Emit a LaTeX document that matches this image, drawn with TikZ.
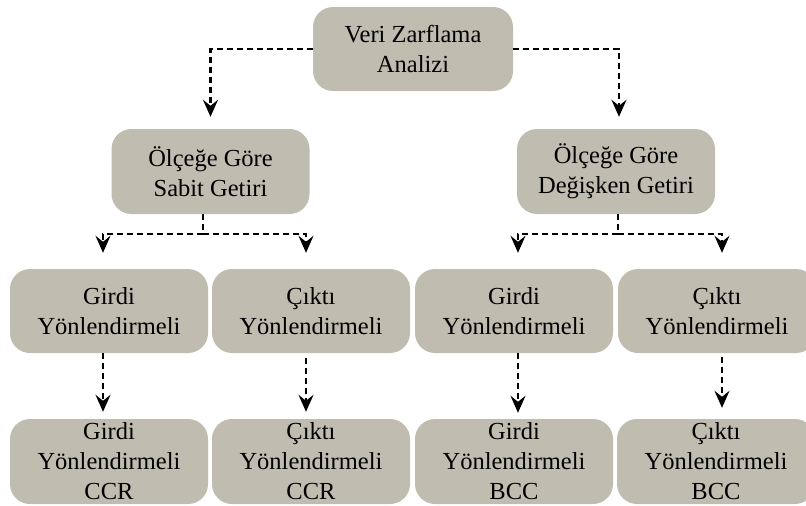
\documentclass[tikz,border=0pt]{standalone}
\usepackage{fontspec}
\setmainfont{Liberation Serif}
\usetikzlibrary{arrows.meta}
\definecolor{boxfill}{HTML}{C0BCAF}
\tikzset{
  box/.style={fill=boxfill, rounded corners=20pt, inner sep=0pt, align=center,
    minimum width=198pt, minimum height=84pt,
    font=\fontsize{24.5}{30}\selectfont},
  conn/.style={line width=2.2pt, dash pattern=on 6pt off 4pt,
    -{Stealth[length=17pt,width=15pt,inset=6pt]}},
  link/.style={line width=2.2pt, dash pattern=on 6pt off 4pt}
}
\begin{document}
\begin{tikzpicture}[x=1pt,y=-1pt]
\useasboundingbox (0,0) rectangle (806,506);

% top level
\node[box, minimum width=200pt] (top) at (413,49) {Veri Zarflama\\Analizi};

% returns to scale
\node[box, minimum height=85pt] (crs) at (210.5,171.5) {Ölçeğe Göre\\Sabit Getiri};
\node[box, minimum height=85pt] (vrs) at (616,171.5) {Ölçeğe Göre\\Değişken Getiri};

% orientation
\node[box] (ia) at (109,311) {Girdi\\Yönlendirmeli};
\node[box] (oa) at (311,311) {Çıktı\\Yönlendirmeli};
\node[box] (ib) at (514,311) {Girdi\\Yönlendirmeli};
\node[box] (ob) at (717,311) {Çıktı\\Yönlendirmeli};

% models
\node[box, minimum height=85pt] (iccr) at (109,461.5) {Girdi\\Yönlendirmeli\\CCR};
\node[box, minimum height=85pt] (occr) at (311,461.5) {Çıktı\\Yönlendirmeli\\CCR};
\node[box, minimum height=85pt] (ibcc) at (514,461.5) {Girdi\\Yönlendirmeli\\BCC};
\node[box, minimum height=85pt] (obcc) at (716,461.5) {Çıktı\\Yönlendirmeli\\BCC};

% branch points
\coordinate (jl) at (203,234);
\coordinate (jr) at (618,234);

% top -> returns to scale
\draw[conn, shorten >=12pt] (top.west) -| (crs.north);
\draw[conn, shorten >=12pt] (top.east) -| ([xshift=3pt]vrs.north);

% returns to scale -> orientation
\draw[link] (crs.south -| jl) -- (jl);
\draw[conn, shorten >=16pt] (jl) -| ([xshift=-6pt]ia.north);
\draw[conn, shorten >=16pt] (jl) -| ([xshift=-5pt]oa.north);
\draw[link] (vrs.south -| jr) -- (jr);
\draw[conn, shorten >=16pt] (jr) -| ([xshift=4pt]ib.north);
\draw[conn, shorten >=16pt] (jr) -| ([xshift=5pt]ob.north);

% orientation -> models
\draw[conn, shorten >=7pt] ([xshift=-6pt]ia.south) -- ([xshift=-6pt]iccr.north);
\draw[conn, shorten <=5pt, shorten >=7pt] ([xshift=-5pt]oa.south) -- ([xshift=-5pt]occr.north);
\draw[conn, shorten >=6pt] ([xshift=4pt]ib.south) -- ([xshift=4pt]ibcc.north);
\draw[conn, shorten <=4pt, shorten >=11pt] ([xshift=5pt]ob.south) -- ([xshift=6pt]obcc.north);
\end{tikzpicture}
\end{document}
